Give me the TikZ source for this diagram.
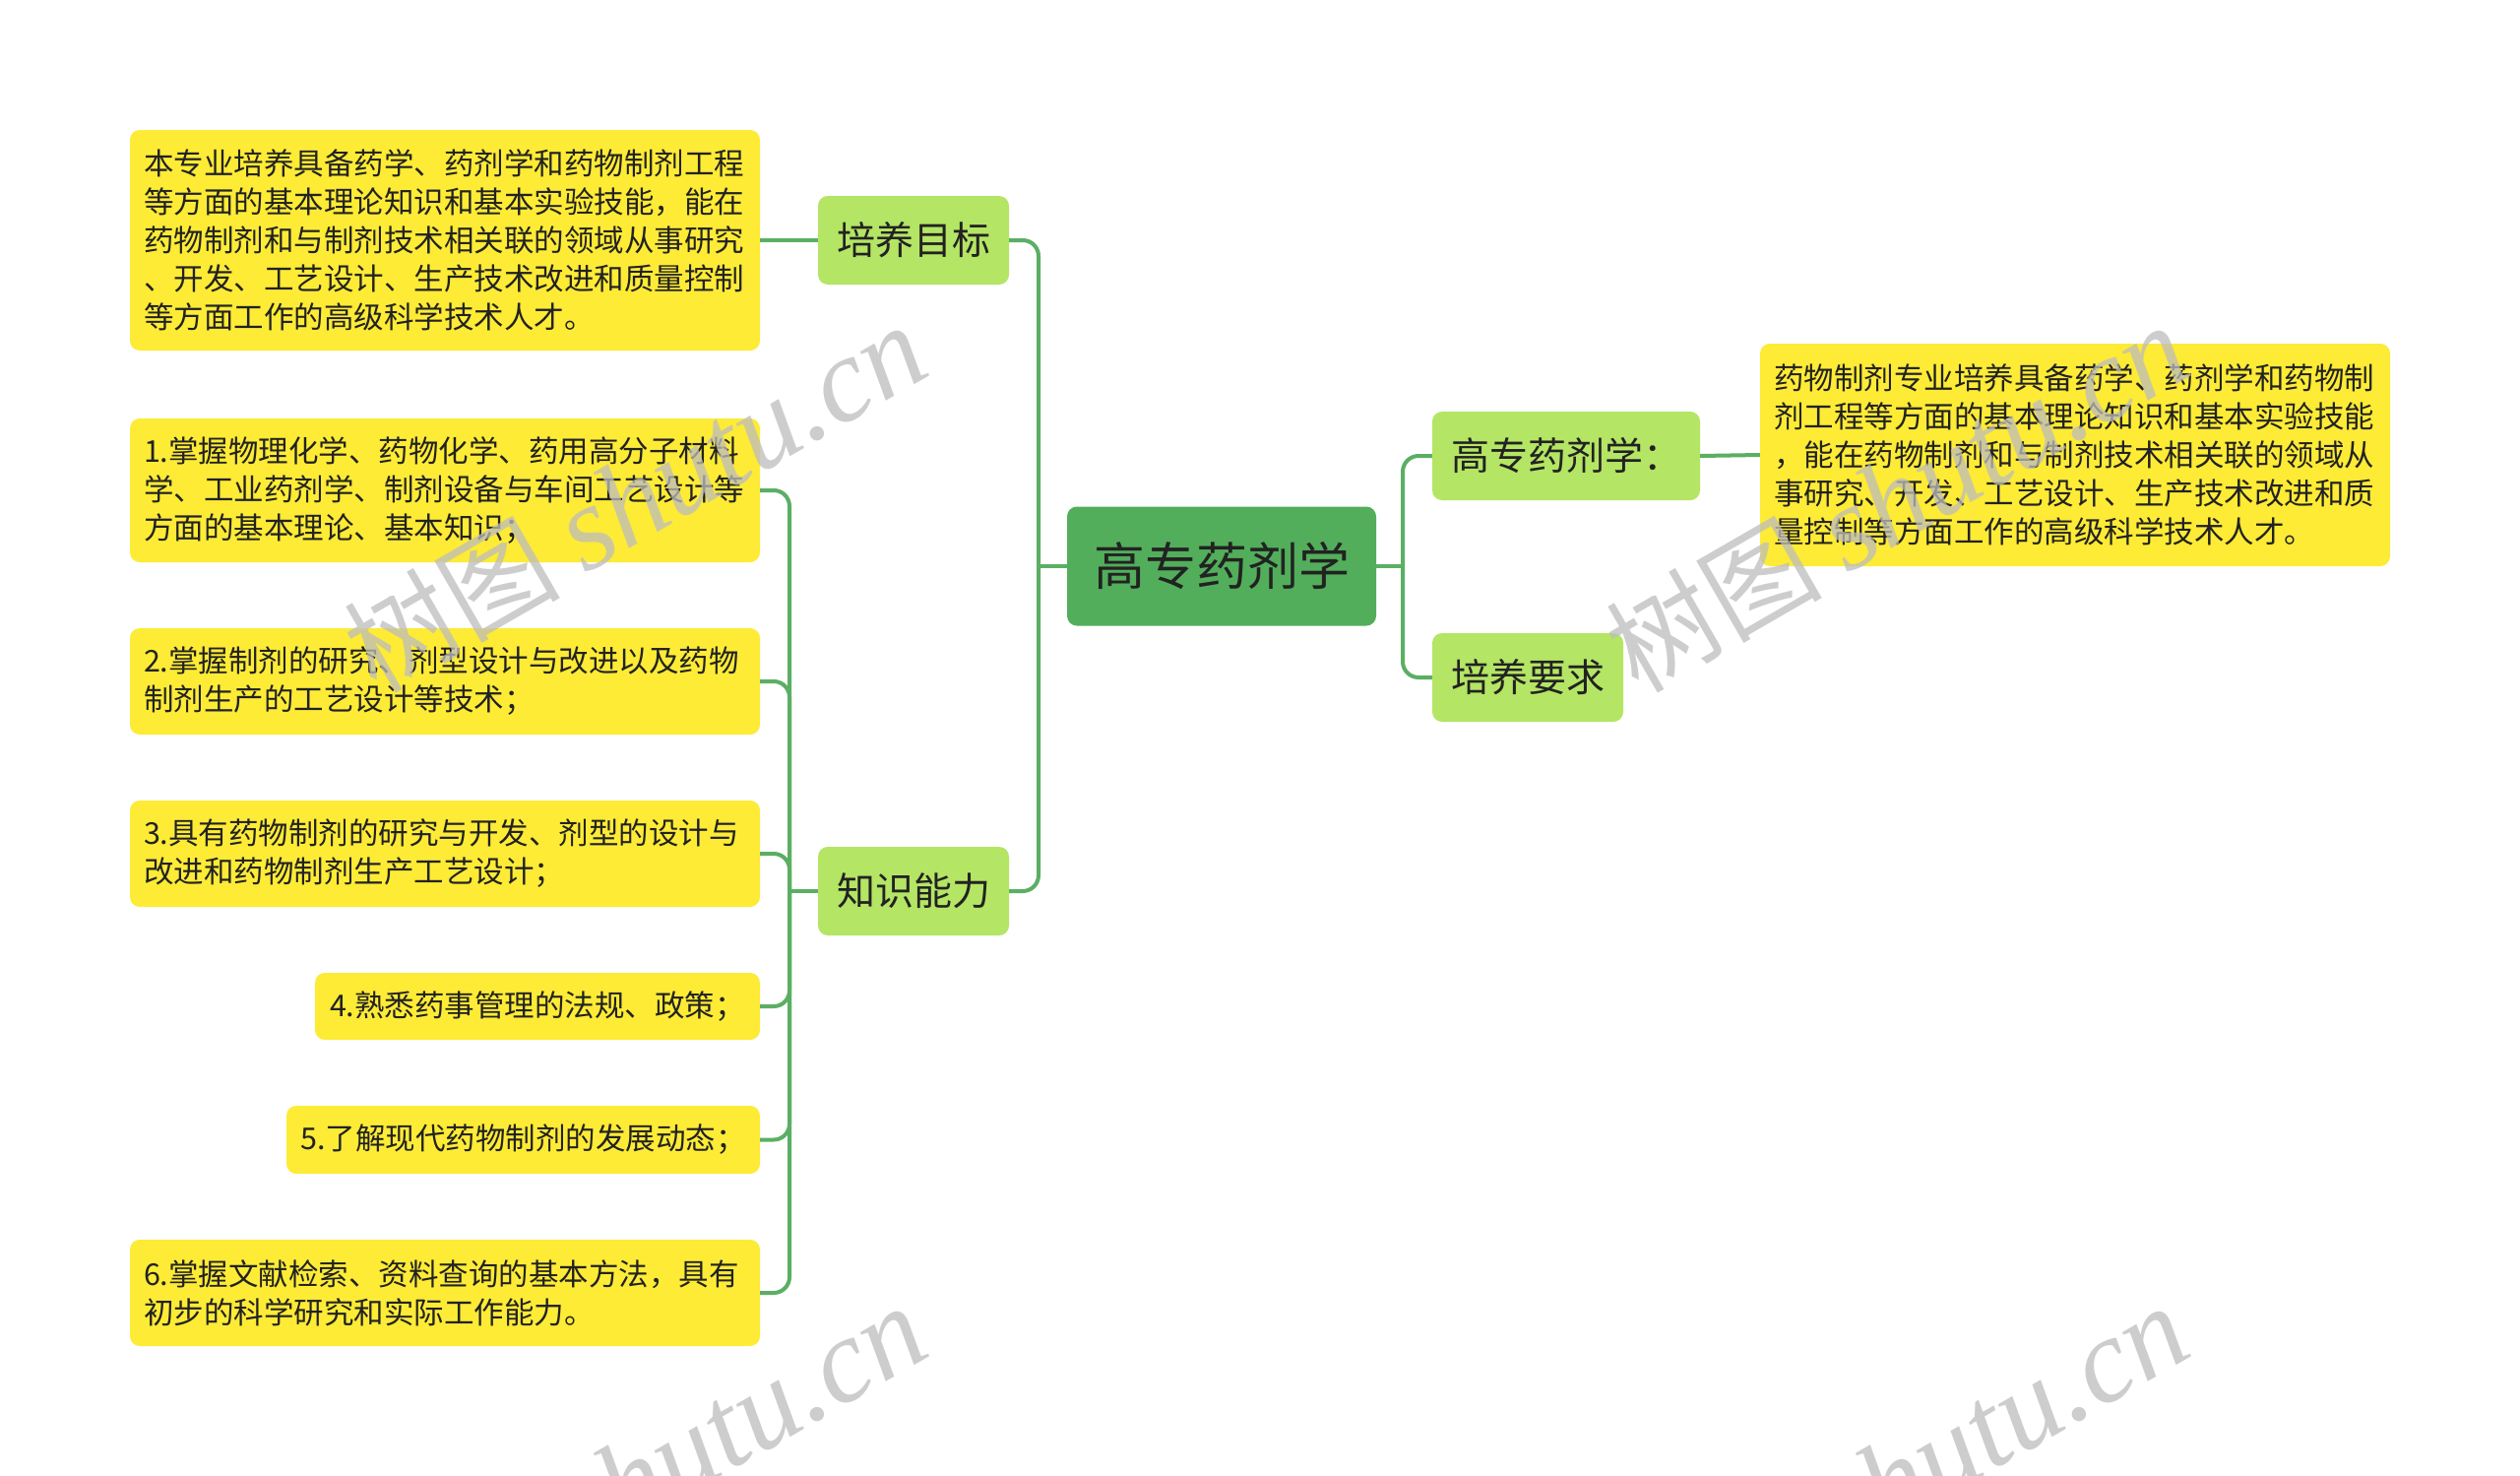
\documentclass[tikz,border=0pt]{standalone}
\usepackage{fontspec}
\newfontfamily\cjk{Noto Sans CJK SC}
\newfontfamily\wmlat{Liberation Serif}
\definecolor{rootc}{HTML}{52AE5B}
\definecolor{lvone}{HTML}{B4E564}
\definecolor{leaf}{HTML}{FDEB36}
\definecolor{linec}{HTML}{5BAF63}
\definecolor{txt}{HTML}{222222}
\definecolor{wmc}{HTML}{BDBDBD}
\begin{document}
\begin{tikzpicture}[x=1pt,y=-1pt,
  rootbox/.style={fill=rootc, rounded corners=10pt, minimum width=314pt, minimum height=121pt, inner sep=0pt, text=txt, font=\cjk\fontsize{52}{60}\selectfont},
  topic/.style={fill=lvone, rounded corners=10pt, minimum height=90pt, inner sep=0pt, text=txt, font=\cjk\fontsize{39}{46}\selectfont},
  leafbox/.style={fill=leaf, rounded corners=10pt, inner xsep=14pt, inner ysep=0pt, text=txt, font=\cjk\fontsize{30.5}{39}\selectfont},
  wide/.style={leafbox, text width=612pt, align=left},
  conn/.style={draw=linec, line width=4pt, rounded corners=16pt},
  wmark/.style={text=wmc, text opacity=0.75, inner sep=0pt}
]
\useasboundingbox (0,0) rectangle (2560,1499);
\fill[white] (0,0) rectangle (2560,1499);

% nodes
\node[rootbox] (root) at (1241,575) {高专药剂学};
\node[topic, minimum width=194pt] (goal) at (928,244) {培养目标};
\node[topic, minimum width=194pt] (know) at (928,905) {知识能力};
\node[topic, minimum width=272pt] (phar) at (1591,463) {高专药剂学：};
\node[topic, minimum width=194pt] (req) at (1552,688) {培养要求};

\node[wide, minimum height=224pt] (ga) at (452,244) {本专业培养具备药学、药剂学和药物制剂工程\\等方面的基本理论知识和基本实验技能，能在\\药物制剂和与制剂技术相关联的领域从事研究\\、开发、工艺设计、生产技术改进和质量控制\\等方面工作的高级科学技术人才。};
\node[wide, minimum height=146pt] (k1) at (452,498) {1.掌握物理化学、药物化学、药用高分子材料\\学、工业药剂学、制剂设备与车间工艺设计等\\方面的基本理论、基本知识；};
\node[wide, minimum height=108pt] (k2) at (452,692) {2.掌握制剂的研究、剂型设计与改进以及药物\\制剂生产的工艺设计等技术；};
\node[wide, minimum height=108pt] (k3) at (452,867) {3.具有药物制剂的研究与开发、剂型的设计与\\改进和药物制剂生产工艺设计；};
\node[leafbox, minimum width=452pt, minimum height=68pt] (k4) at (546,1022) {4.熟悉药事管理的法规、政策；};
\node[leafbox, minimum width=481pt, minimum height=69pt] (k5) at (531.5,1157.5) {5.了解现代药物制剂的发展动态；};
\node[wide, minimum height=108pt] (k6) at (452,1313) {6.掌握文献检索、资料查询的基本方法，具有\\初步的科学研究和实际工作能力。};
\node[wide, minimum height=226pt] (pa) at (2108,462) {药物制剂专业培养具备药学、药剂学和药物制\\剂工程等方面的基本理论知识和基本实验技能\\，能在药物制剂和与制剂技术相关联的领域从\\事研究、开发、工艺设计、生产技术改进和质\\量控制等方面工作的高级科学技术人才。};

% junctions
\coordinate (jL) at (1055,575);
\coordinate (jR) at (1425,575);
\coordinate (jK) at (802,905);

% connectors
\draw[conn] (root.west) -- (jL);
\draw[conn] (jL) |- (goal.east);
\draw[conn] (jL) |- (know.east);
\draw[conn] (root.east) -- (jR);
\draw[conn] (jR) |- (phar.west);
\draw[conn] (jR) |- (req.west);
\draw[conn] (goal.west) -- (ga.east);
\draw[conn] (phar.east) -- (pa.west);
\draw[conn] (know.west) -- (jK);
\foreach \k in {k1,k2,k3,k4,k5,k6} {\draw[conn] (jK) |- (\k.east);}

% watermarks
\begin{scope}
\clip (0,0) rectangle (2560,1499);
\foreach \p in {(645,506),(1927,506),(645,1502),(1927,1502)} {
  \node[wmark, rotate=30] at \p {{\cjk\fontsize{110}{120}\selectfont 树图}\hspace{24pt}{\wmlat\itshape\fontsize{122}{130}\selectfont shutu.cn}};
}
\end{scope}
\end{tikzpicture}
\end{document}
